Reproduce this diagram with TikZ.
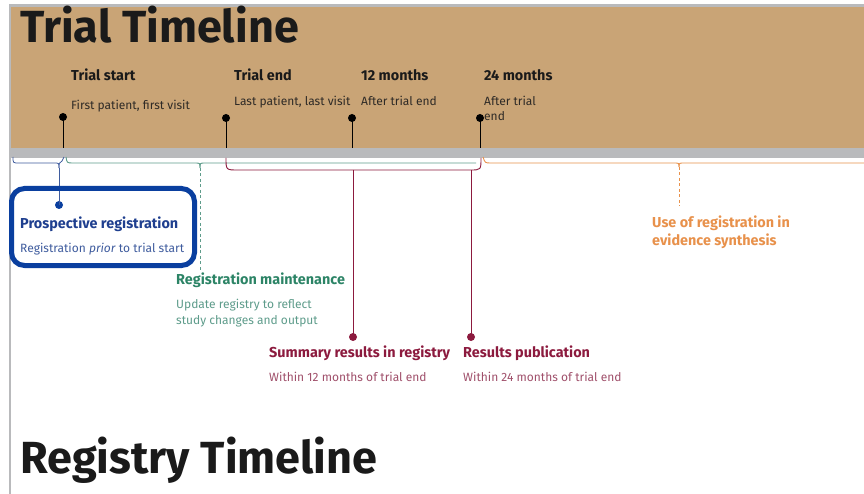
\documentclass[tikz,border=0pt]{standalone}
\usepackage{fontspec}
\setmainfont{Fira Sans}
\definecolor{tan}{HTML}{C9A476}
\definecolor{band}{HTML}{B9BABC}
\definecolor{bluebox}{HTML}{0A3F9F}
\definecolor{bluet}{HTML}{1F3F8F}
\definecolor{bluel}{HTML}{3F5C9E}
\definecolor{tealt}{HTML}{2C8466}
\definecolor{teall}{HTML}{5E9C8B}
\definecolor{maroon}{HTML}{8C1A3E}
\definecolor{maroonl}{HTML}{A0506B}
\definecolor{orng}{HTML}{E8914B}
\definecolor{ink}{HTML}{1A1A1A}
\definecolor{inkl}{HTML}{2E2A26}
\begin{document}
\begin{tikzpicture}[x=1pt,y=-1pt,
  title/.style={anchor=base west,inner sep=0pt,text=ink,font=\bfseries\fontsize{45}{50}\selectfont},
  head/.style={anchor=base west,inner sep=0pt,font=\bfseries\fontsize{14.4}{18}\selectfont},
  sub/.style={anchor=base west,inner sep=0pt,align=left,font=\fontsize{12}{16}\selectfont},
  dotnode/.style={circle,fill,inner sep=0pt,minimum size=8pt},
  conn/.style={line width=1pt},
]
\useasboundingbox (0,0) rectangle (864,494);
\fill[white] (0,0) rectangle (864,494);
% frame
\fill[band] (9,4) rectangle (864,7);
\fill[band] (9,4) rectangle (11,494);
\fill[tan] (11,7) rectangle (864,148);
\fill[band] (11,148) rectangle (864,158);
\coordinate (bottom) at (0,148);

\node[title] (tt) at (20,43) {Trial Timeline};
\node[title] (rt) at (20,473) {Registry Timeline};

% milestones
\node[head,text=ink] (h1) at (71,81) {Trial start};
\node[sub,text=inkl] (s1) at (71,110) {First patient, first visit};
\node[head,text=ink] (h2) at (234,81) {Trial end};
\node[sub,text=inkl] (s2) at (234,106) {Last patient, last visit};
\node[head,text=ink] (h3) at (361,81) {12 months};
\node[sub,text=inkl] (s3) at (361,106) {After trial end};
\node[head,text=ink] (h4) at (484,81) {24 months};
\node[sub,text=inkl,font=\fontsize{12}{15}\selectfont] (s4) at (484,121) {After trial\\end};

\node[dotnode] (d1) at (63,117) {};
\node[dotnode] (d2) at (226,118) {};
\node[dotnode] (d3) at (352,118) {};
\node[dotnode] (d4) at (480,118) {};
\foreach \d in {d1,d2,d3,d4}{\draw[conn] (\d.center) -- (\d |- bottom);}

% blue brace
\coordinate (btip) at (59,168);
\draw[bluel,line width=0.8pt] (13,157) .. controls (13,163) .. (19,163) -- (54,163) .. controls (59,163) .. (btip);
\draw[bluel,line width=0.8pt] (btip) .. controls (59,163) .. (62,161) -- (64,157);
\node[dotnode,bluebox] (bd) at (59,205) {};
\draw[bluel,line width=0.9pt] (btip) -- (bd.center);

% teal brace
\coordinate (ttip) at (200,168);
\draw[teall,line width=0.9pt] (66,157) .. controls (67,163) .. (73,163) -- (195,163) .. controls (200,163) .. (ttip);
\draw[teall,line width=0.9pt] (ttip) .. controls (200,163) .. (205,163) -- (476,163);
\coordinate (tend) at (200,270);
\draw[teall,line width=0.9pt,dash pattern=on 3pt off 2.5pt] (ttip) -- (tend);

% maroon bracket
\draw[maroon,line width=0.9pt] (226,158) .. controls (226,170) .. (238,170) -- (470,170) .. controls (481,170) .. (481,158);
\coordinate (m1) at (353,170);
\coordinate (m2) at (471,170);
\node[dotnode,maroon] (md1) at (353,337) {};
\node[dotnode,maroon] (md2) at (471,337) {};
\draw[maroon,line width=0.9pt] (m1) -- (md1.center);
\draw[maroon,line width=0.9pt] (m2) -- (md2.center);

% orange
\coordinate (otip) at (679,167);
\draw[orng,line width=0.9pt] (483,157) .. controls (485,163) .. (491,163) -- (674,163) .. controls (679,163) .. (otip);
\draw[orng,line width=0.9pt] (otip) .. controls (679,163) .. (684,163) -- (864,163);
\coordinate (oend) at (679,206);
\draw[orng,line width=0.9pt,dash pattern=on 3pt off 2.5pt] (otip) -- (oend);

% activity labels
\node[head,text=bluet] (pr) at (20,229) {Prospective registration};
\node[sub,text=bluel] (prs) at (20,253) {Registration \textit{prior} to trial start};
\draw[bluebox,line width=5pt,rounded corners=13pt] (11.5,188.5) rectangle (194.5,265.5);

\node[head,text=tealt] (rm) at (176,284) {Registration maintenance};
\node[sub,text=teall] (rms) at (176,324) {Update registry to reflect\\study changes and output};

\node[head,text=maroon] (sr) at (269,357) {Summary results in registry};
\node[sub,text=maroonl] (srs) at (269,381) {Within 12 months of trial end};
\node[head,text=maroon] (rp) at (463,357) {Results publication};
\node[sub,text=maroonl] (rps) at (463,381) {Within 24 months of trial end};

\node[head,text=orng,align=left] (ue) at (652,246) {Use of registration in\\evidence synthesis};
\end{tikzpicture}
\end{document}
